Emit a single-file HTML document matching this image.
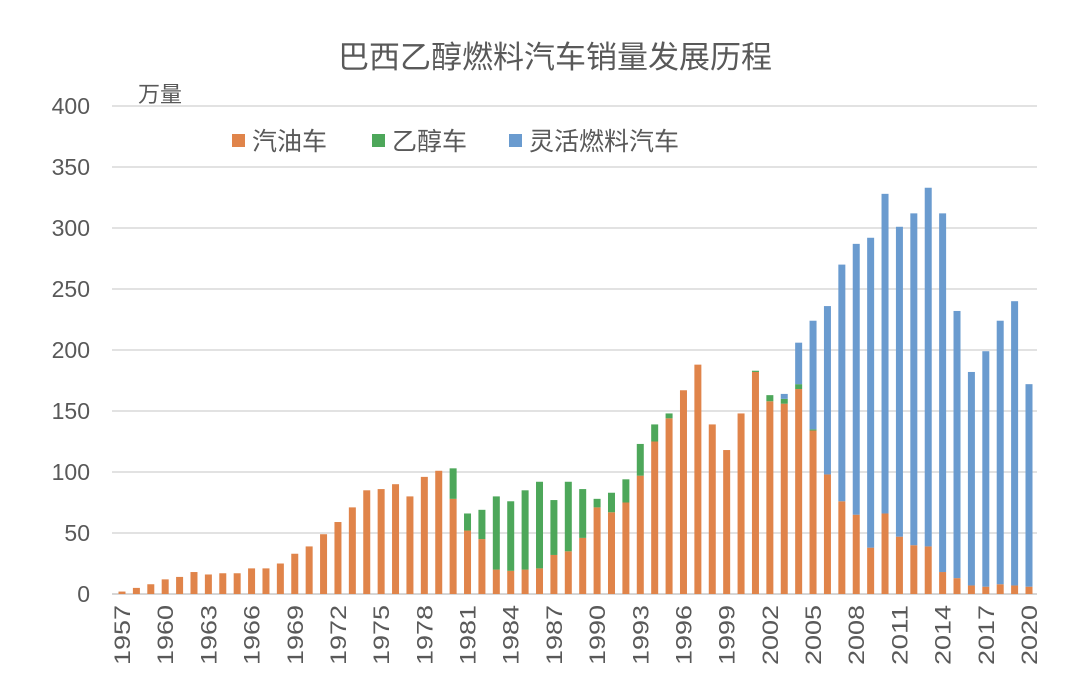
<!DOCTYPE html>
<html><head><meta charset="utf-8"><style>
body{margin:0;background:#fff;}
svg text{font-family:"Liberation Sans","Noto Sans CJK SC",sans-serif;fill:#595959;}
</style></head><body>
<svg id="c" width="1080" height="691">
<text x="555" y="68" text-anchor="middle" font-size="31">巴西乙醇燃料汽车销量发展历程</text>
<text x="138" y="102" font-size="22">万量</text>
<g id="grid"></g><g id="bars"></g><g id="xl"></g>
<g>
<rect x="232" y="134" width="13" height="13" fill="#E0844A"/>
<text x="252" y="150" font-size="25">汽油车</text>
<rect x="372" y="134" width="13" height="13" fill="#4DA75A"/>
<text x="392" y="150" font-size="25">乙醇车</text>
<rect x="509" y="134" width="13" height="13" fill="#6A9BCF"/>
<text x="529" y="150" font-size="25">灵活燃料汽车</text>
</g>
</svg>
<script>
const years=[];for(let y=1957;y<=2020;y++)years.push(y);
const gasoline=[2,5,8,12,14,18,16,17,17,21,21,25,33,39,49,59,71,85,86,90,80,96,101,78,52,45,20,19,20,21,32,35,46,71,67,75,97,125,144,167,188,139,118,148,182,158,156,168,134,98,76,65,38,66,47,40,39,18,13,7,6,8,7,6];
const ethanol=[0,0,0,0,0,0,0,0,0,0,0,0,0,0,0,0,0,0,0,0,0,0,0,25,14,24,60,57,65,71,45,57,40,7,16,19,26,14,4,0,0,0,0,0,1,5,4,4,1,0,0,0,0,0,0,0,0,0,0,0,0,0,0,0];
const flex=[0,0,0,0,0,0,0,0,0,0,0,0,0,0,0,0,0,0,0,0,0,0,0,0,0,0,0,0,0,0,0,0,0,0,0,0,0,0,0,0,0,0,0,0,0,0,4,34,89,138,194,222,254,262,254,272,294,294,219,175,193,216,233,166];
const yTicks=[0,50,100,150,200,250,300,350,400];
const NS="http://www.w3.org/2000/svg";
const y0=594,pxPer=488/400,x0=122,step=(1029-122)/63,bw=7;
const Y=v=>y0-v*pxPer, X=i=>x0+i*step;
function mk(t,a,p){const e=document.createElementNS(NS,t);for(const k in a)e.setAttribute(k,a[k]);p.appendChild(e);return e;}
const grid=document.getElementById('grid');
yTicks.forEach(v=>{
 const l=mk('line',{x1:112,x2:1037,y1:Y(v),y2:Y(v),stroke:v===0?'#c8c8c8':'#d9d9d9','stroke-width':1.5},grid);
 
 
 const t=mk('text',{x:90,y:Y(v)+8,'text-anchor':'end','font-size':23},grid);t.textContent=v;
 
 
});
const bars=document.getElementById('bars');
years.forEach((yr,i)=>{
 const x=X(i)-bw/2;let base=0;
 [[gasoline[i],'#E0844A','gasoline'],[ethanol[i],'#4DA75A','ethanol'],[flex[i],'#6A9BCF','flex']].forEach(([v,c,n])=>{
  if(v<=0)return;
  const r=mk('rect',{x:x,y:Y(base+v),width:bw,height:v*pxPer,fill:c},bars);
  
  
  base+=v;
 });
});
const xl=document.getElementById('xl');
years.forEach((yr,i)=>{
 if((yr-1957)%3)return;
 const t=mk('text',{x:0,y:0,'font-size':22,'text-anchor':'end',textLength:60,lengthAdjust:'spacingAndGlyphs',transform:`translate(${X(i)+8},605) rotate(-90)`},xl);
 t.textContent=yr;
 
 
});
</script>
</body></html>
